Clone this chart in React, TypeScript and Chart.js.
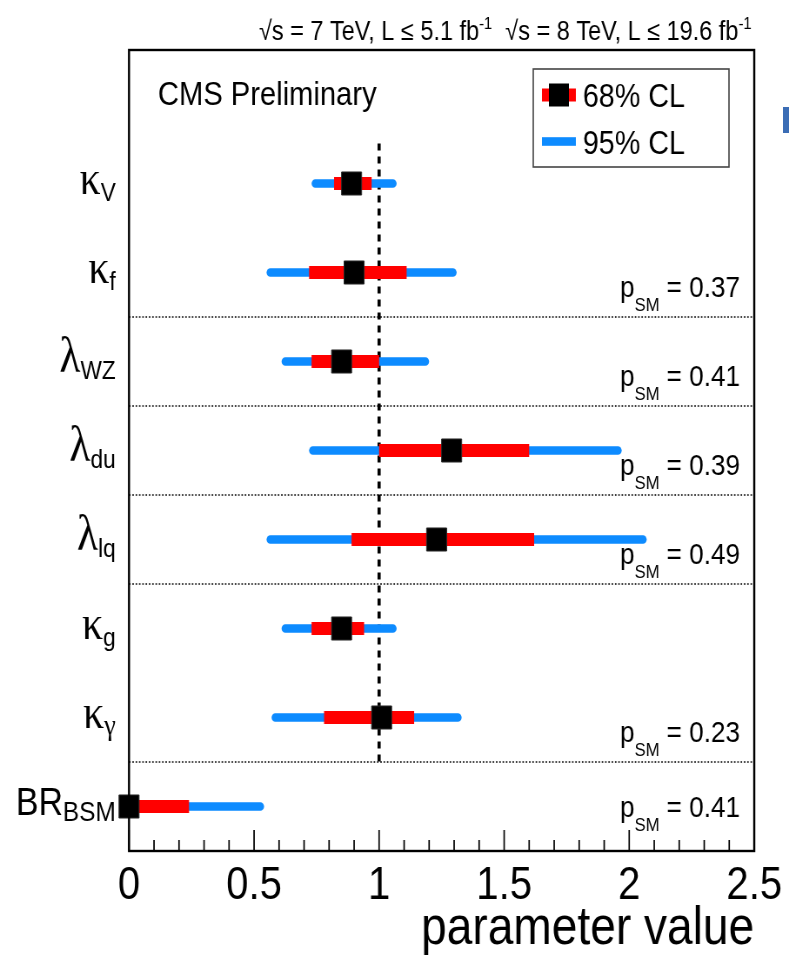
import React, { useEffect, useRef } from 'react';
import { Chart, registerables } from 'chart.js';

Chart.register(...registerables);

// Coupling parameters, top to bottom
const labelMain = ['κ', 'κ', 'λ', 'λ', 'λ', 'κ', 'κ', 'BR'];
const labelSub = ['V', 'f', 'WZ', 'du', 'lq', 'g', 'γ', 'BSM'];
const rowPos = [7.5, 6.5, 5.5, 4.5, 3.5, 2.5, 1.5, 0.5];

// Best-fit values and confidence intervals
const bestFit = [0.89, 0.9, 0.85, 1.29, 1.23, 0.85, 1.01, 0.0];
const lo68 = [0.82, 0.72, 0.73, 1.0, 0.89, 0.73, 0.78, 0.0];
const hi68 = [0.97, 1.11, 1.0, 1.6, 1.62, 0.94, 1.14, 0.24];
const lo95 = [0.73, 0.55, 0.61, 0.72, 0.55, 0.61, 0.57, 0.0];
const hi95 = [1.07, 1.31, 1.2, 1.97, 2.07, 1.07, 1.33, 0.54];

// Compatibility with the SM for each fit group
const pValues = ['0.37', '0.41', '0.39', '0.49', '0.23', '0.41'];
const pValuePos = [6.22, 5.22, 4.22, 3.22, 1.22, 0.38];

// Group separators and the SM reference line
const separators = [6, 5, 4, 3, 1];
const smValue = 1;
const smLineRange = [1, 7.95];

const xMin = 0;
const xMax = 2.5;
const xStep = 0.5;
const minorStep = 0.1;
const xTickLabels = ['0', '0.5', '1', '1.5', '2', '2.5'];

const W = 789;
const H = 959;
const SQUEEZE = 0.87; // the figure is drawn horizontally condensed
const CW = Math.round(W / SQUEEZE);
const FRAME_LEFT = 148.3;
const FRAME_RIGHT = 867.8;

const RED = '#ff0000';
const BLUE = '#0d8bff';
const SANS = '"Liberation Sans", Arial, Helvetica, sans-serif';
const GREEK = '"Liberation Serif", "Times New Roman", serif';

type Seg = { text: string; font: string; dy: number };

function drawRich(ctx: CanvasRenderingContext2D, segs: Seg[], xRight: number, baseline: number) {
  let total = 0;
  const widths = segs.map((s) => {
    ctx.font = s.font;
    const w = ctx.measureText(s.text).width;
    total += w;
    return w;
  });
  let x = xRight - total;
  segs.forEach((s, i) => {
    ctx.font = s.font;
    ctx.fillText(s.text, x, baseline + s.dy);
    x += widths[i];
  });
}

const decor = {
  id: 'decor',
  beforeDraw(chart: any) {
    const { ctx, width, height } = chart;
    ctx.save();
    ctx.fillStyle = '#fff';
    ctx.fillRect(0, 0, width, height);
    ctx.restore();
  },
  beforeDatasetsDraw(chart: any) {
    const { ctx, chartArea, scales } = chart;
    const xs = scales.x;
    const ys = scales.y;
    ctx.save();
    // dotted group separators
    ctx.strokeStyle = '#000';
    ctx.lineWidth = 1.7;
    ctx.setLineDash([1.8, 2.0]);
    separators.forEach((v) => {
      const y = ys.getPixelForValue(v);
      ctx.beginPath();
      ctx.moveTo(chartArea.left, y);
      ctx.lineTo(chartArea.right, y);
      ctx.stroke();
    });
    // dashed SM line
    ctx.lineWidth = 3.6;
    ctx.setLineDash([7, 6]);
    const xSM = xs.getPixelForValue(smValue);
    ctx.beginPath();
    ctx.moveTo(xSM, ys.getPixelForValue(smLineRange[1]));
    ctx.lineTo(xSM, ys.getPixelForValue(smLineRange[0]));
    ctx.stroke();
    ctx.restore();
  },
  afterDatasetsDraw(chart: any) {
    const { ctx, chartArea, scales } = chart;
    const xs = scales.x;
    const ys = scales.y;
    ctx.save();
    // frame
    ctx.strokeStyle = '#000';
    ctx.lineWidth = 2.4;
    ctx.setLineDash([]);
    ctx.strokeRect(chartArea.left, chartArea.top, chartArea.right - chartArea.left, chartArea.bottom - chartArea.top);
    // inward tick marks
    ctx.lineWidth = 1.7;
    const nMinor = Math.round((xMax - xMin) / minorStep);
    const perMajor = Math.round(xStep / minorStep);
    for (let k = 0; k <= nMinor; k++) {
      const x = xs.getPixelForValue(xMin + k * minorStep);
      const len = k % perMajor === 0 ? 21 : 11;
      ctx.beginPath();
      ctx.moveTo(x, chartArea.bottom);
      ctx.lineTo(x, chartArea.bottom - len);
      ctx.stroke();
    }

    ctx.fillStyle = '#000';
    ctx.textAlign = 'left';
    ctx.textBaseline = 'alphabetic';

    // parameter names
    const labelRight = 133;
    rowPos.forEach((v, i) => {
      const y = ys.getPixelForValue(v);
      if (labelMain[i] === 'BR') {
        drawRich(ctx, [
          { text: 'BR', font: `39px ${SANS}`, dy: 8 },
          { text: labelSub[i], font: `28px ${SANS}`, dy: 14 },
        ], labelRight, y);
      } else {
        const isLambda = labelMain[i] === 'λ';
        const subGreek = /[α-ω]/.test(labelSub[i]);
        drawRich(ctx, [
          { text: labelMain[i], font: `${isLambda ? 50 : 48}px ${GREEK}`, dy: 10 },
          { text: labelSub[i], font: subGreek ? `30px ${GREEK}` : `26px ${SANS}`, dy: 17 },
        ], labelRight, y);
      }
    });

    // p-values
    pValues.forEach((p, i) => {
      const y = ys.getPixelForValue(pValuePos[i]);
      drawRich(ctx, [
        { text: 'p', font: `30px ${SANS}`, dy: 0 },
        { text: 'SM', font: `19px ${SANS}`, dy: 14 },
        { text: ' = ' + p, font: `30px ${SANS}`, dy: 0 },
      ], 850.6, y);
    });

    // header line
    drawRich(ctx, [
      { text: '√s = 7 TeV, L ≤ 5.1 fb', font: `27px ${SANS}`, dy: 0 },
      { text: '-1', font: `17px ${SANS}`, dy: -11 },
      { text: '  √s = 8 TeV, L ≤ 19.6 fb', font: `27px ${SANS}`, dy: 0 },
      { text: '-1', font: `17px ${SANS}`, dy: -11 },
    ], 864, 40);

    // experiment label
    ctx.font = `33.5px ${SANS}`;
    ctx.fillText('CMS Preliminary', 181.6, 105);

    // legend
    ctx.strokeStyle = '#444';
    ctx.lineWidth = 1.6;
    ctx.strokeRect(613, 69, 225, 98);
    ctx.fillStyle = RED;
    ctx.fillRect(623, 95 - 6.5, 39, 13);
    ctx.fillStyle = '#000';
    ctx.fillRect(642.5 - 11.5, 95 - 11.5, 23, 23);
    ctx.fillStyle = BLUE;
    ctx.fillRect(623, 141.5 - 4.3, 39, 8.6);
    ctx.fillStyle = '#000';
    ctx.font = `33px ${SANS}`;
    ctx.fillText('68% CL', 670, 106.5);
    ctx.fillText('95% CL', 670, 154);

    // edge of a neighbouring slide element
    ctx.fillStyle = '#3b6db5';
    ctx.fillRect(900, 107, CW - 900, 26);
    ctx.restore();
  },
};

export default function App() {
  const ref = useRef<HTMLCanvasElement>(null);

  useEffect(() => {
    document.body.style.margin = '0';
    const canvas = ref.current;
    if (!canvas) return;
    const chart = new Chart(canvas, {
      type: 'bar',
      data: {
        datasets: [
          {
            type: 'scatter',
            label: 'best fit',
            data: rowPos.map((y, i) => ({ x: bestFit[i], y })),
            pointStyle: 'rect',
            pointRadius: 16.3,
            pointHoverRadius: 16.3,
            backgroundColor: '#000',
            borderColor: '#2a2a2a',
            borderWidth: 1,
            clip: false,
            order: 0,
          } as any,
          {
            type: 'bar',
            label: '68% CL',
            indexAxis: 'y',
            data: rowPos.map((y, i) => ({ y, x: [lo68[i], hi68[i]] })),
            backgroundColor: RED,
            maxBarThickness: 13,
            grouped: false,
            borderSkipped: false,
            borderWidth: 0,
            order: 1,
          } as any,
          {
            type: 'bar',
            label: '95% CL',
            indexAxis: 'y',
            data: rowPos.map((y, i) => ({ y, x: [lo95[i], hi95[i]] })),
            backgroundColor: BLUE,
            maxBarThickness: 8.6,
            grouped: false,
            borderSkipped: false,
            borderRadius: 4.3,
            borderWidth: 0,
            order: 2,
          } as any,
        ],
      },
      options: {
        animation: false,
        responsive: false,
        devicePixelRatio: 1,
        events: [],
        layout: { padding: { top: 50, right: CW - FRAME_RIGHT, left: 0, bottom: 0 } },
        plugins: { legend: { display: false }, tooltip: { enabled: false } },
        scales: {
          x: {
            type: 'linear',
            position: 'bottom',
            min: xMin,
            max: xMax,
            offset: false,
            grid: { display: false, drawTicks: false, offset: false },
            border: { display: false },
            ticks: {
              stepSize: xStep,
              padding: 8,
              color: '#000',
              maxRotation: 0,
              autoSkip: false,
              font: { family: SANS, size: 46 },
              callback: (_v: any, i: number) => xTickLabels[i],
            },
            title: {
              display: true,
              text: 'parameter value',
              align: 'end',
              color: '#000',
              font: { family: SANS, size: 53, lineHeight: 1 },
              padding: { top: 4, bottom: 3 },
            },
            afterFit: (s: any) => {
              s.height = 108;
            },
          },
          y: {
            type: 'linear',
            position: 'left',
            min: 0,
            max: 9,
            offset: false,
            grid: { display: false, drawTicks: false, offset: false },
            border: { display: false },
            ticks: { display: false },
            afterFit: (s: any) => {
              s.width = FRAME_LEFT;
            },
          },
        },
      } as any,
      plugins: [decor],
    });
    return () => chart.destroy();
  }, []);

  return (
    <canvas
      ref={ref}
      width={CW}
      height={H}
      style={{ display: 'block', width: `${W}px`, height: `${H}px` }}
    />
  );
}
